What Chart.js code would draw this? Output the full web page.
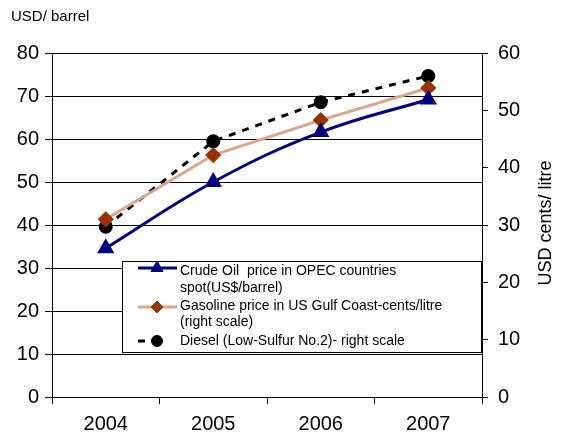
<!DOCTYPE html>
<html><head><meta charset="utf-8">
<script src="https://cdn.jsdelivr.net/npm/chart.js@4.4.1/dist/chart.umd.min.js"></script>
<style>html,body{margin:0;padding:0;background:#fff;}#wrap{width:563px;height:437px;position:relative;}</style>
</head><body><div id="wrap"><canvas id="c" width="563" height="437"></canvas></div>
<script>
const years = ['2004', '2005', '2006', '2007'];
const crudeOil = [34.6, 50.0, 61.6, 69.2];      // USD/barrel (left scale)
const gasoline = [31.0, 42.2, 48.3, 53.9];      // cents/litre (right scale)
const diesel = [29.7, 44.6, 51.4, 56.0];        // cents/litre (right scale)
const leftAxis = {min: 0, max: 80, step: 10};
const rightAxis = {min: 0, max: 60, step: 10};
const legendLabels = [
  ['Crude Oil  price in OPEC countries', 'spot(US$/barrel)'],
  ['Gasoline price in US Gulf Coast-cents/litre', '(right scale)'],
  ['Diesel (Low-Sulfur No.2)- right scale']
];
const leftTitle = 'USD/ barrel';
const rightTitle = 'USD cents/ litre';

const FONT = '"Liberation Sans", Arial, sans-serif';
const NAVY = '#000080', TAN = '#D9A58C', BROWN = '#993300';

const extras = {
  id: 'extras',
  afterDraw(chart) {
    const ctx = chart.ctx;
    ctx.save();
    // top-left title
    ctx.fillStyle = '#000';
    ctx.font = '15px ' + FONT;
    ctx.textAlign = 'left';
    ctx.textBaseline = 'middle';
    ctx.fillText(leftTitle, 11, 17);
    // right title
    ctx.save();
    ctx.translate(546, 223);
    ctx.rotate(-Math.PI / 2);
    ctx.textAlign = 'center';
    ctx.font = '18px ' + FONT;
    ctx.fillText(rightTitle, 0, 0);
    ctx.restore();

    // legend box
    const bx = 122.5, by = 261.5, bw = 359, bh = 91;
    ctx.fillStyle = '#fff';
    ctx.fillRect(bx, by, bw, bh);
    ctx.strokeStyle = '#000';
    ctx.lineWidth = 1;
    ctx.strokeRect(bx, by, bw, bh);

    const ds = chart.data.datasets;
    const rows = [268, 307, 341];
    const textY = [[271, 288], [306.5, 322], [341]];
    rows.forEach((y, i) => {
      const d = ds[i];
      ctx.save();
      ctx.strokeStyle = d.borderColor;
      ctx.lineWidth = 3;
      ctx.setLineDash([]);
      ctx.beginPath();
      if (i === 2) { ctx.moveTo(138, y); ctx.lineTo(145, y); }
      else { ctx.moveTo(138, y); ctx.lineTo(177, y); }
      ctx.stroke();
      ctx.fillStyle = d.pointBackgroundColor;
      ctx.strokeStyle = d.pointBorderColor;
      ctx.lineWidth = 1;
      Chart.helpers.drawPoint(ctx, {
        pointStyle: d.pointStyle, radius: d.pointRadius, rotation: 0, borderWidth: 1
      }, 157, y);
      ctx.restore();
      ctx.fillStyle = '#000';
      ctx.font = '14px ' + FONT;
      ctx.textAlign = 'left';
      ctx.textBaseline = 'middle';
      legendLabels[i].forEach((t, j) => ctx.fillText(t, 180, textY[i][j]));
    });
    ctx.restore();
  }
};

new Chart(document.getElementById('c'), {
  type: 'line',
  data: {
    labels: years,
    datasets: [
      {label: legendLabels[0].join(' '), data: crudeOil, yAxisID: 'y',
       borderColor: NAVY, borderWidth: 3, tension: 0.4,
       pointStyle: 'triangle', pointRadius: 7, pointBackgroundColor: NAVY, pointBorderColor: NAVY},
      {label: legendLabels[1].join(' '), data: gasoline, yAxisID: 'y2',
       borderColor: TAN, borderWidth: 3, tension: 0,
       pointStyle: 'rectRot', pointRadius: 6, pointBackgroundColor: BROWN, pointBorderColor: BROWN},
      {label: legendLabels[2].join(' '), data: diesel, yAxisID: 'y2',
       borderColor: '#000', borderWidth: 3, borderDash: [7, 7], tension: 0,
       pointStyle: 'circle', pointRadius: 5.5, pointBackgroundColor: '#000', pointBorderColor: '#000'}
    ]
  },
  options: {
    responsive: false,
    animation: false,
    layout: {padding: {top: 53, left: 0, right: 0, bottom: 0}},
    plugins: {legend: {display: false}, tooltip: {enabled: false}},
    scales: {
      x: {
        type: 'category', offset: true,
        grid: {display: true, drawOnChartArea: false, offset: true, color: '#000', tickLength: 7, tickColor: '#000'},
        border: {display: true, color: '#000', width: 1},
        ticks: {color: '#000', font: {family: FONT, size: 20}, padding: 8, maxRotation: 0},
        afterFit: s => { s.height = 40; }
      },
      y: {
        position: 'left', min: leftAxis.min, max: leftAxis.max,
        grid: {color: '#000', lineWidth: 1, tickLength: 7, tickColor: '#000'},
        border: {display: true, color: '#000', width: 1},
        ticks: {stepSize: leftAxis.step, color: '#000', font: {family: FONT, size: 20}, padding: 6},
        afterFit: s => { s.width = 52; }
      },
      y2: {
        position: 'right', min: rightAxis.min, max: rightAxis.max,
        grid: {drawOnChartArea: false, color: '#000', tickLength: 6, tickColor: '#000'},
        border: {display: true, color: '#000', width: 1},
        ticks: {stepSize: rightAxis.step, color: '#000', font: {family: FONT, size: 20}, padding: 10},
        afterFit: s => { s.width = 81; }
      }
    }
  },
  plugins: [extras]
});
</script></body></html>
